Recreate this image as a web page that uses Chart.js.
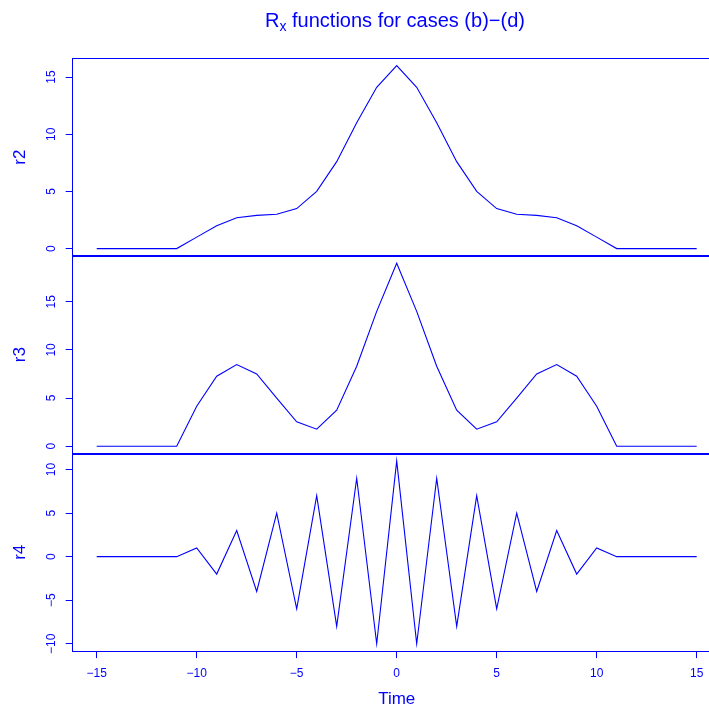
<!DOCTYPE html>
<html><head><meta charset="utf-8">
<script src="https://cdn.jsdelivr.net/npm/chart.js@4.4.0/dist/chart.umd.min.js"></script>
<style>
html,body{margin:0;padding:0;background:#fff;}
#wrap{position:relative;width:709px;height:713px;overflow:hidden;background:#fff;}
canvas{position:absolute;left:0;top:0;}
#title{position:absolute;left:0;top:8px;width:790px;text-align:center;font-family:"Liberation Sans",Arial,sans-serif;font-size:20px;line-height:24px;color:#0000ff;white-space:nowrap;}
#title sub{font-size:14px;line-height:0;vertical-align:-4px;}
</style></head><body>
<div id="wrap">
<canvas id="c1" width="740" height="713"></canvas>
<canvas id="c2" width="740" height="713"></canvas>
<canvas id="c3" width="740" height="713"></canvas>
<div id="title">R<sub>x</sub> functions for cases (b)−(d)</div>
</div>
<script>
const time = [-15,-14,-13,-12,-11,-10,-9,-8,-7,-6,-5,-4,-3,-2,-1,0,1,2,3,4,5,6,7,8,9,10,11,12,13,14,15];
const r2 = [0,0,0,0,0,1,2,2.7,2.9,3,3.5,5,7.6,11,14.1,16,14.1,11,7.6,5,3.5,3,2.9,2.7,2,1,0,0,0,0,0];
const r3 = [0,0,0,0,0,4.15,7.27,8.48,7.5,5,2.53,1.76,3.74,8.3,14,19,14,8.3,3.74,1.76,2.53,5,7.5,8.48,7.27,4.15,0,0,0,0,0];
const r4 = [0,0,0,0,0,1,-2,3,-4,5,-6,7,-8,9,-10,11,-10,9,-8,7,-6,5,-4,3,-2,1,0,0,0,0,0];
const xTicks = [-15,-10,-5,0,5,10,15];
const r2Ticks = [0,5,10,15];
const r3Ticks = [0,5,10,15];
const r4Ticks = [-10,-5,0,5,10];
const xLabel = 'Time';

const BLUE = '#0000ff';
Chart.defaults.font.family = '"Liberation Sans", Arial, sans-serif';
Chart.defaults.color = BLUE;

const W = 740, H = 713;
const PLOT_LEFT = 72.7, PLOT_RIGHT = 720.7;
const fmt = v => String(v).replace('-', '\u2212');

const boxPlugin = {
  id: 'box',
  afterDraw(chart) {
    const {ctx, chartArea: a} = chart;
    const L = Math.floor(a.left) + 0.5, R = Math.floor(a.right) + 0.5;
    const T = Math.round(a.top) + 0.5, B = Math.floor(a.bottom) + 0.5;
    ctx.save();
    ctx.strokeStyle = BLUE;
    ctx.lineWidth = 1;
    ctx.strokeRect(L, T, R - L, B - T);
    ctx.restore();
  }
};

function makePanel(id, label, values, yTicks, yMin, yMax, top, bottom, showX, tickPad) {
  new Chart(document.getElementById(id), {
    type: 'line',
    data: {
      datasets: [{
        data: time.map((t, i) => ({x: t, y: values[i]})),
        borderColor: BLUE,
        borderWidth: 1.1,
        pointRadius: 0,
        tension: 0,
        fill: false
      }]
    },
    options: {
      responsive: false,
      animation: false,
      devicePixelRatio: 1,
      layout: {padding: {left: 0, right: W - PLOT_RIGHT, top: top, bottom: showX ? 0 : H - bottom}},
      plugins: {legend: {display: false}, tooltip: {enabled: false}},
      scales: {
        x: {
          type: 'linear',
          display: showX,
          min: -16.2, max: 16.2,
          afterBuildTicks: s => { s.ticks = xTicks.map(v => ({value: v})); },
          afterFit: s => { if (showX) s.height = H - bottom; },
          grid: {display: true, drawOnChartArea: false, color: BLUE, tickLength: 7, lineWidth: 1},
          border: {display: false},
          ticks: {font: {size: 12}, color: BLUE, padding: 8, maxRotation: 0, autoSkip: false, callback: fmt},
          title: {display: true, text: xLabel, color: BLUE, font: {size: 17}, padding: {top: 0, bottom: 3}}
        },
        y: {
          type: 'linear',
          position: 'left',
          min: yMin, max: yMax,
          afterBuildTicks: s => { s.ticks = yTicks.map(v => ({value: v})); },
          afterFit: s => { s.width = PLOT_LEFT; },
          grid: {display: true, drawOnChartArea: false, color: BLUE, tickLength: 7, lineWidth: 1},
          border: {display: false},
          ticks: {font: {size: 12}, color: BLUE, padding: tickPad, minRotation: 90, maxRotation: 90, crossAlign: 'center', autoSkip: false, callback: fmt},
          title: {display: true, text: label, color: BLUE, font: {size: 17}, padding: {top: 10, bottom: 0}}
        }
      }
    },
    plugins: [boxPlugin]
  });
}

makePanel('c1', 'r2', r2, r2Ticks, -0.64, 16.64, 58.3, 255.9, false, 7);
makePanel('c2', 'r3', r3, r3Ticks, -0.76, 19.76, 255.9, 453.5, false, 7);
makePanel('c3', 'r4', r4, r4Ticks, -10.84, 11.84, 453.5, 651.1, true, 3.5);
</script>
</body></html>
